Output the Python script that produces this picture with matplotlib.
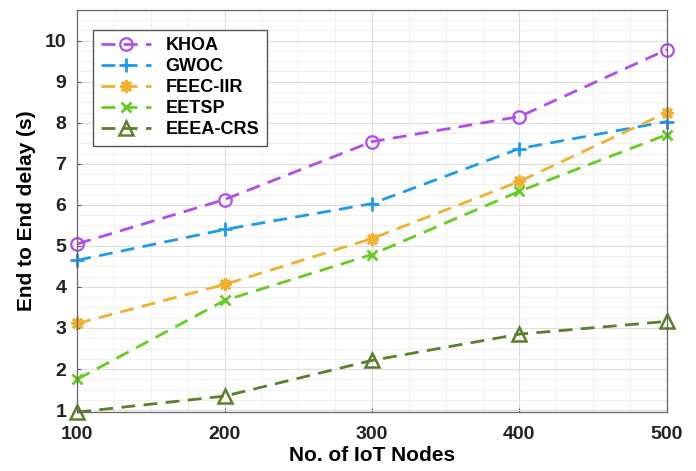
import matplotlib
matplotlib.use("Agg")
import matplotlib.pyplot as plt
from matplotlib.ticker import AutoMinorLocator

plt.rcParams['font.family'] = ['Liberation Sans', 'DejaVu Sans']

nodes = [100, 200, 300, 400, 500]
khoa = [5.05, 6.13, 7.54, 8.15, 9.78]
gwoc = [4.65, 5.40, 6.03, 7.37, 8.03]
feec = [3.11, 4.06, 5.18, 6.57, 8.25]
eetsp = [1.75, 3.67, 4.79, 6.33, 7.71]
eeea = [0.95, 1.34, 2.21, 2.85, 3.16]
labels = ['KHOA', 'GWOC', 'FEEC-IIR', 'EETSP', 'EEEA-CRS']
yticks = list(range(1, 11))

fig = plt.figure(figsize=(6.96, 4.71), dpi=100)
ax = fig.add_axes([0.111, 0.125, 0.847, 0.854])

styles = [
    dict(color='#B04CF0', marker='o', mfc='none', ms=9, mew=1.6),
    dict(color='#1E9BF0', marker='+', ms=10, mew=2),
    dict(color='#F0B030', marker=(8, 2, 0), ms=9, mew=2),
    dict(color='#66CC22', marker='x', ms=7, mew=2),
    dict(color='#5B7F2A', marker='^', mfc='none', ms=10, mew=1.8),
]
for data, lab, st in zip([khoa, gwoc, feec, eetsp, eeea], labels, styles):
    ax.plot(nodes, data, linestyle=(0, (5, 3)), lw=2, label=lab, clip_on=False, **st)

ax.set_xlim(100, 500)
ax.set_ylim(0.95, 10.75)
ax.set_xticks(nodes)
ax.set_yticks(yticks)
ax.xaxis.set_minor_locator(AutoMinorLocator(4))
ax.yaxis.set_minor_locator(AutoMinorLocator(4))
ax.grid(True, which='major', color='#dddddd', lw=0.8)
ax.grid(True, which='minor', color='#eeeeee', lw=0.6)
ax.set_axisbelow(True)
ax.tick_params(which='both', direction='in', length=3, colors='#555555', labelcolor='#222222')
ax.tick_params(which='minor', length=0)
ax.tick_params(axis='x', pad=10)
ax.tick_params(axis='y', pad=8)
for lbl in ax.get_xticklabels() + ax.get_yticklabels():
    lbl.set_fontweight('bold')
    lbl.set_fontsize(14)
for sp in ax.spines.values():
    sp.set_color('#666666')
    sp.set_linewidth(0.9)

ax.set_xlabel('No. of IoT Nodes', fontsize=15, fontweight='bold', labelpad=2)
ax.set_ylabel('End to End delay (s)', fontsize=15, fontweight='bold', labelpad=6)

leg = ax.legend(loc='upper left', bbox_to_anchor=(0.012, 0.972),
                prop={'weight': 'bold', 'size': 13}, fancybox=False,
                edgecolor='#555555', framealpha=1, handlelength=2.8,
                labelspacing=0.22, borderpad=0.4)

fig.savefig('out.png', dpi=100)
